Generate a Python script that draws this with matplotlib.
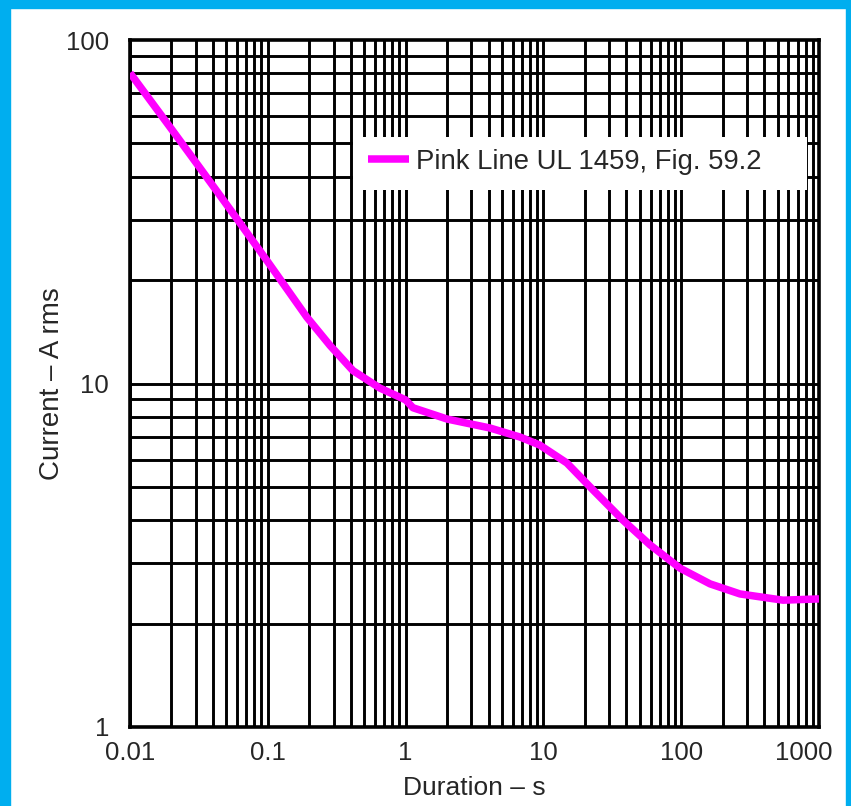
import matplotlib
matplotlib.use("Agg")
import matplotlib.pyplot as plt
from matplotlib.patches import Rectangle
from matplotlib.transforms import ScaledTranslation

plt.rcParams['font.family'] = ['Liberation Sans', 'DejaVu Sans']

# Pink line (UL 1459, Fig. 59.2): duration in seconds vs. current in A rms
duration_s = [0.01, 0.0195, 0.0322, 0.0578, 0.1, 0.192, 0.283, 0.415,
              0.65, 1.0, 1.13, 2.0, 4.1, 6.8, 9.4, 14.8, 22.9, 37.8,
              59.4, 98, 162, 267, 548, 1000]
current_a = [80.2, 55.8, 42.4, 30.7, 22.6, 15.6, 12.9, 10.9,
             9.7, 8.96, 8.5, 7.88, 7.42, 6.98, 6.62, 5.87, 4.9, 4.0,
             3.39, 2.90, 2.61, 2.44, 2.34, 2.36]

x_ticks = [0.01, 0.1, 1, 10, 100, 1000]
x_ticklabels = ["0.01", "0.1", "1", "10", "100", "1000"]
y_ticks = [1, 10, 100]
y_ticklabels = ["1", "10", "100"]

legend_label = "Pink Line UL 1459, Fig. 59.2"

W, H = 851, 806
fig = plt.figure(figsize=(W / 100, H / 100), dpi=100)
fig.patch.set_facecolor('white')

# blue frame around the white panel
blue = '#00AEEF'
fig.add_artist(Rectangle((0, 0), 10 / W, 1, transform=fig.transFigure,
                         color=blue, zorder=0))
fig.add_artist(Rectangle((0, 1 - 8 / H), 1, 8 / H, transform=fig.transFigure,
                         color=blue, zorder=0))
fig.add_artist(Rectangle((1 - 5 / W, 0), 5 / W, 1, transform=fig.transFigure,
                         color=blue, zorder=0))

left, right, top, bottom = 130, 819, 40, 727
aw, ah = right - left, bottom - top
ax = fig.add_axes([left / W, (H - bottom) / H, aw / W, ah / H])
ax.set_xscale('log')
ax.set_yscale('log')
ax.set_xlim(0.01, 1000)
ax.set_ylim(1, 100)

# full log grid: every 1..9 within each decade
grid_lw = 2.1
for dec in [0.01, 0.1, 1, 10, 100]:
    for k in range(1, 10):
        ax.axvline(dec * k, color='black', lw=grid_lw, zorder=1)
for dec in [1, 10]:
    for k in range(1, 10):
        ax.axhline(dec * k, color='black', lw=grid_lw, zorder=1)

for s in ax.spines.values():
    s.set_linewidth(2.6)
    s.set_color('black')

text_color = '#262626'
ax.set_xticks(x_ticks)
ax.set_xticklabels(x_ticklabels)
ax.set_yticks(y_ticks)
ax.set_yticklabels(y_ticklabels)
ax.minorticks_off()
ax.tick_params(axis='both', length=0, labelsize=18.5, colors=text_color)
ax.tick_params(axis='x', pad=10)
ax.tick_params(axis='y', pad=15)

# last x label sits pulled in from the right edge
last = ax.get_xticklabels()[-1]
last.set_transform(last.get_transform() + ScaledTranslation(-15 / 100, 0, fig.dpi_scale_trans))

ax.set_xlabel("Duration – s", fontsize=19, color=text_color, labelpad=8)
ax.set_ylabel("Current – A rms", fontsize=20, color=text_color, labelpad=1)

ax.plot(duration_s, current_a, color='#FF00FF', lw=5.4,
        solid_capstyle='butt', solid_joinstyle='round', zorder=3,
        label=legend_label)

# white panel behind the legend
ax.add_patch(Rectangle(((353 - left) / aw, 1 - (190 - top) / ah),
                       (807 - 353) / aw, (190 - 137) / ah,
                       transform=ax.transAxes, facecolor='white',
                       edgecolor='none', zorder=4))

leg = ax.legend(loc='center left',
                bbox_to_anchor=((368 - left) / aw, 1 - (162 - top) / ah),
                frameon=False, fontsize=19.8, handlelength=1.5,
                handletextpad=0.25, borderpad=0, borderaxespad=0)
leg.set_zorder(5)
for t in leg.get_texts():
    t.set_color(text_color)

fig.savefig("out.png", dpi=100)
